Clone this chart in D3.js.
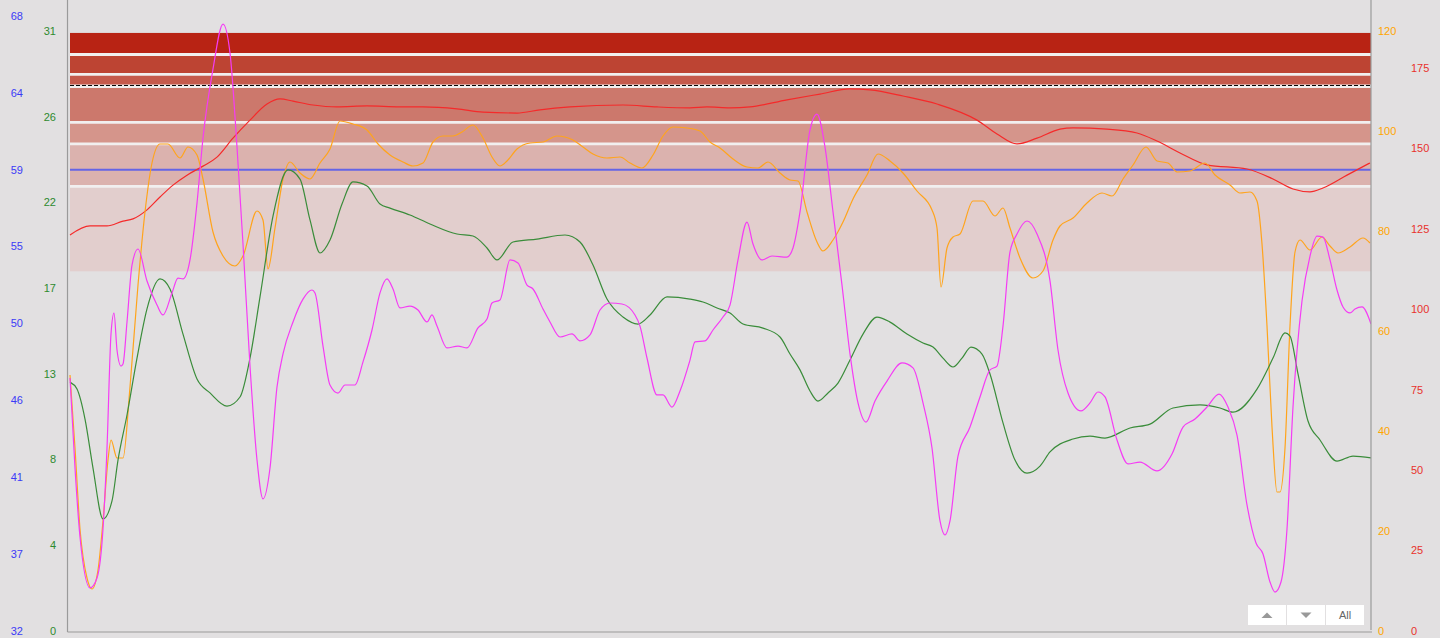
<!DOCTYPE html>
<html>
<head>
<meta charset="utf-8">
<script src="https://cdn.jsdelivr.net/npm/d3@7"></script>
<style>
body { margin: 0; background: #e2e0e1; }
svg { display: block; font-family: "Liberation Sans", Arial, sans-serif; }
</style>
</head>
<body>
<svg width="1440" height="638"></svg>
<script>
const width = 1440
const height = 638

// axis tick labels (left blue, left green, right orange, right red)
const blueTicks = [32, 36.5, 41, 45.5, 50, 54.5, 59, 63.5, 68]
const greenTicks = ["0", "4", "8", "13", "17", "22", "26", "31"]
const orangeTicks = [0, 20, 40, 60, 80, 100, 120]
const redTicks = [0, 25, 50, 75, 100, 125, 150, 175]

// zones, in red axis units (top to bottom edges)
const zoneEdges = [185.9, 179.2, 173.0, 169.3, 158.1, 151.4, 138.2, 111.8]
const zoneColors = ["#b82314", "#bd4433", "#c55a4c", "#cc786c", "#d5958b", "#dbb2ae", "#e2cecd"]
const dashedLevel = 169.57  // red axis
const blueLevel = 59        // blue axis

// series: red (red axis)
const redT = [0,20,37,53,63,77,90,103,117,133,147,163,180,197,210,223,243,267,297,330,353,387,413,447,470,500,553,587,620,637,660,680,717,750,780,800,833,867,907,927,947,967,990,1003,1037,1067,1087,1110,1137,1177,1203,1223,1240,1253,1277,1300]
const redV = [123.1,125.9,125.9,127.4,128.1,130.9,134.9,138.6,141.7,144.5,147.3,153.2,158.8,163.8,165.4,164.7,163.5,162.9,163.2,162.9,162.9,162.3,161.3,161.0,162.0,162.9,163.5,162.9,162.6,162.9,162.6,162.9,165.1,166.9,168.5,168.2,166.3,163.8,158.8,154.5,151.4,153.2,156.0,156.4,156.0,154.8,152.3,148.6,144.9,143.6,140.5,137.4,136.5,137.7,141.7,145.5]

// orange (orange axis)
const orangeT = [0,5,10,17,22,28,33,38,41,47,53,60,68,75,82,90,98,110,118,127,133,143,153,165,173,187,193,198,205,213,220,230,240,250,260,270,283,297,308,320,333,343,353,363,373,383,392,403,413,422,430,437,447,460,473,487,503,513,523,537,550,560,572,583,593,603,617,630,640,650,663,677,688,698,710,720,728,737,747,753,763,773,783,797,808,820,833,847,862,867,871,877,883,890,903,913,925,933,940,950,963,973,983,990,1003,1017,1032,1042,1053,1063,1076,1087,1098,1107,1120,1135,1145,1160,1170,1180,1187,1192,1197,1202,1207,1210,1215,1220,1225,1230,1240,1252,1260,1268,1280,1293,1300]
const orangeV = [51.2,36.6,20.4,10.6,8.4,12.2,22.0,34.2,38.2,34.6,34.6,48.8,69.2,83.8,93.6,97.4,97.4,94.6,96.8,95.2,90.4,79.8,75.0,73.0,75.0,84.0,82.2,72.4,80.6,90.4,93.8,91.6,90.4,93.6,96.4,102.0,101.4,100.2,97.4,95.2,93.8,93.0,93.6,97.8,99.0,99.0,99.8,101.2,98.6,94.8,93.0,94.0,96.4,97.6,97.8,99.0,98.2,96.8,95.4,94.6,94.8,93.6,92.6,95.2,99.0,100.8,100.6,100.0,97.8,96.6,94.4,92.8,92.6,93.8,91.6,90.2,90.0,83.8,77.8,76.0,78.2,81.8,86.4,91.2,95.4,94.0,91.6,88.0,84.2,80.6,68.8,76.6,78.8,79.4,86.0,86.0,83.0,84.6,80.6,74.6,70.6,72.0,78.2,81.0,82.6,85.6,87.6,87.0,90.4,93.2,96.8,94.0,93.6,91.8,92.0,93.6,91.2,89.2,87.6,87.8,86.0,77.4,61.0,40.8,27.8,27.8,36.6,61.0,75.8,78.2,76.2,78.8,77.0,75.6,76.8,78.6,77.6]

// green (green axis)
const greenT = [0,7,15,23,33,42,48,57,67,77,90,100,113,127,140,157,170,180,190,203,218,230,240,250,260,272,283,297,310,320,340,360,387,403,417,427,443,467,495,510,523,537,553,568,580,597,620,633,647,660,673,693,710,720,730,740,748,758,768,780,793,807,820,837,853,863,873,883,892,901,912,920,933,945,957,970,980,1003,1020,1035,1060,1080,1103,1130,1150,1163,1187,1203,1215,1220,1228,1238,1250,1267,1283,1301]
const greenV = [12.86,12.50,10.95,8.42,5.79,6.72,8.83,11.16,14.10,16.64,18.19,17.67,15.34,13.02,12.30,11.62,12.09,14.10,17.26,21.44,23.82,23.35,21.24,19.53,20.20,22.06,23.20,22.99,22.06,21.85,21.49,21.03,20.51,20.41,19.79,19.17,20.10,20.25,20.46,20.10,18.91,17.15,16.22,15.86,16.33,17.26,17.15,17.00,16.69,16.43,15.86,15.65,15.19,14.31,13.49,12.40,11.88,12.30,12.81,14.00,15.34,16.22,15.96,15.34,14.88,14.67,14.10,13.64,14.10,14.67,14.31,13.28,10.75,8.83,8.16,8.52,9.25,9.92,10.07,9.97,10.49,10.69,11.52,11.68,11.52,11.31,12.50,14.10,15.40,15.24,13.28,10.85,9.87,8.78,9.04,8.94]

// magenta (blue axis)
const pinkT = [0,5,10,20,27,33,37,41,44,47,51,53,57,62,68,77,87,93,102,108,113,120,127,133,143,153,160,167,173,180,187,193,200,207,213,223,233,242,245,253,260,268,275,285,293,302,310,317,323,330,340,348,357,362,367,377,388,397,408,417,422,430,440,448,457,463,473,480,490,502,510,520,530,540,552,565,570,577,587,593,602,610,620,625,635,643,653,660,668,677,683,692,702,717,723,730,740,747,755,763,772,780,788,796,805,817,832,843,853,862,870,875,880,888,900,910,920,927,933,940,947,957,967,980,988,998,1011,1020,1028,1035,1047,1058,1070,1087,1102,1113,1125,1137,1149,1158,1167,1177,1186,1193,1200,1205,1211,1217,1223,1232,1240,1247,1253,1260,1267,1273,1280,1285,1292,1301]
const pinkV = [46.81,41.54,37.50,34.52,35.10,37.97,42.71,49.39,50.61,48.45,47.51,47.63,50.09,53.42,54.36,52.49,51.08,50.50,51.79,52.66,52.61,53.72,57.05,60.86,64.90,67.53,65.84,60.33,54.65,47.51,42.01,39.73,41.54,46.28,48.22,50.09,51.43,51.96,51.79,48.68,46.40,45.93,46.40,46.40,47.75,49.62,51.79,52.61,52.02,50.91,51.02,50.79,50.09,50.50,49.85,48.57,48.68,48.57,49.74,50.26,51.20,51.38,53.72,53.54,52.25,52.02,50.85,50.09,49.21,49.39,48.98,49.33,50.79,51.20,51.14,50.50,49.85,47.98,45.82,45.82,45.11,46.05,47.86,48.92,48.98,49.62,50.38,51.08,53.72,55.94,54.65,53.72,53.95,53.89,54.42,56.53,61.33,62.26,60.33,56.53,52.25,48.22,45.35,44.23,45.46,46.63,47.69,47.40,45.35,42.71,38.44,37.62,38.44,42.24,43.94,45.70,47.28,47.51,49.85,54.19,55.24,56.00,55.24,52.49,48.45,45.93,44.88,45.35,45.99,45.70,43.18,41.78,41.89,41.37,42.36,43.94,44.41,45.11,45.87,45.11,43.47,39.38,37.15,36.51,34.87,34.28,34.87,37.97,45.11,51.32,53.95,55.12,55.06,53.72,51.96,50.97,50.62,50.85,50.97,49.97]

var svg = d3.select(document.getElementsByTagName('svg')[0])

// plot area
const plotLeft = 67.5, plotRight = 1371, plotTop = 0, plotBottom = 632

var x = d3.scaleLinear().domain([0, 1301]).range([70, 1371])
var yBlue = d3.scaleLinear().domain([32, 68]).range([631, 16])
var yGreen = d3.scaleLinear().domain([0, 31]).range([631, 31])
var yOrange = d3.scaleLinear().domain([0, 120]).range([631, 31])
var yRed = d3.scaleLinear().domain([0, 175]).range([631, 68])

svg.append('rect').attr('width', width).attr('height', height).style('fill', '#e2e0e1')

svg.append('clipPath').attr('id', 'plot')
  .append('rect')
  .attr('x', plotLeft).attr('y', plotTop)
  .attr('width', plotRight - plotLeft).attr('height', plotBottom - plotTop)

// zone bands
var zones = d3.range(zoneColors.length).map(i => ({ from: zoneEdges[i], to: zoneEdges[i + 1], color: zoneColors[i] }))
svg.append('g').selectAll('rect')
  .data(zones)
  .enter()
  .append('rect')
  .attr('x', x(0))
  .attr('width', x(1301) - x(0))
  .attr('y', d => yRed(d.from))
  .attr('height', d => yRed(d.to) - yRed(d.from))
  .style('fill', d => d.color)

// white separators between zones
svg.append('g').selectAll('line')
  .data(zoneEdges.slice(1, -1))
  .enter()
  .append('line')
  .attr('x1', x(0)).attr('x2', x(1301))
  .attr('y1', d => yRed(d)).attr('y2', d => yRed(d))
  .style('stroke', '#f1efef')
  .style('stroke-width', d => d == zoneEdges[3] ? 3.5 : 2.8)

svg.append('line')
  .attr('x1', x(0)).attr('x2', x(1301))
  .attr('y1', yRed(dashedLevel)).attr('y2', yRed(dashedLevel))
  .style('stroke', '#000')
  .style('stroke-width', 1)
  .style('stroke-dasharray', '4,2')

svg.append('line')
  .attr('x1', x(0)).attr('x2', x(1301))
  .attr('y1', yBlue(blueLevel)).attr('y2', yBlue(blueLevel))
  .style('stroke', '#6464e6')
  .style('stroke-width', 2)

// series
var series = [
  { t: redT, v: redV, y: yRed, color: '#f52a2a' },
  { t: orangeT, v: orangeV, y: yOrange, color: '#ffa41c' },
  { t: greenT, v: greenV, y: yGreen, color: '#3a8c3a' },
  { t: pinkT, v: pinkV, y: yBlue, color: '#f53cf5' }
]
var plot = svg.append('g').attr('clip-path', 'url(#plot)')
series.forEach(function(s) {
  var pts = s.t.map((t, i) => [t, s.v[i]])
  var line = d3.line()
    .x(d => x(d[0]))
    .y(d => s.y(d[1]))
    .curve(d3.curveMonotoneX)
  plot.append('path')
    .attr('d', line(pts))
    .style('fill', 'none')
    .style('stroke', s.color)
    .style('stroke-width', 1.2)
})

// axis lines
svg.append('line').attr('x1', plotLeft).attr('x2', plotLeft).attr('y1', 0).attr('y2', plotBottom)
  .style('stroke', '#9a9a9a').style('stroke-width', 1.2)
svg.append('line').attr('x1', plotRight).attr('x2', plotRight).attr('y1', 0).attr('y2', 630)
  .style('stroke', '#9a9a9a').style('stroke-width', 1.2)
svg.append('line').attr('x1', plotLeft).attr('x2', plotRight + 1).attr('y1', plotBottom).attr('y2', plotBottom)
  .style('stroke', '#9a9a9a').style('stroke-width', 1.2)

// tick labels
function labels(vals, scale, xPos, anchor, color, fmt) {
  svg.append('g').selectAll('text')
    .data(vals)
    .enter()
    .append('text')
    .attr('x', xPos)
    .attr('y', d => scale(d))
    .attr('dy', '0.35em')
    .attr('text-anchor', anchor)
    .attr('font-size', '11px')
    .style('fill', color)
    .text(fmt)
}
labels(blueTicks, yBlue, 23, 'end', '#3b3bf7', d => Math.round(d))
labels(greenTicks.map((l, i) => i * 31 / 7), yGreen, 56, 'end', '#2e8a2e', (d, i) => greenTicks[i])
labels(orangeTicks, yOrange, 1378, 'start', '#ffa500', d => d)
labels(redTicks, yRed, 1411, 'start', '#e8322c', d => d)

// zoom buttons, bottom right
var buttons = ['up', 'down', 'All']
var btn = svg.append('g').selectAll('g')
  .data(buttons)
  .enter()
  .append('g')
  .attr('transform', (d, i) => 'translate(' + (1248 + i * 39) + ',605)')
btn.append('rect')
  .attr('width', 38).attr('height', 20)
  .style('fill', '#fff')
btn.filter(d => d != 'All').append('path')
  .attr('d', d => d == 'up' ? 'M13.5,13 L24.5,13 L19,7.5 Z' : 'M13.5,7.5 L24.5,7.5 L19,13 Z')
  .style('fill', '#999')
btn.filter(d => d == 'All').append('text')
  .attr('x', 19).attr('y', 10).attr('dy', '0.35em')
  .attr('text-anchor', 'middle')
  .attr('font-size', '11px')
  .style('fill', '#666')
  .text(d => d)
</script>
</body>
</html>
